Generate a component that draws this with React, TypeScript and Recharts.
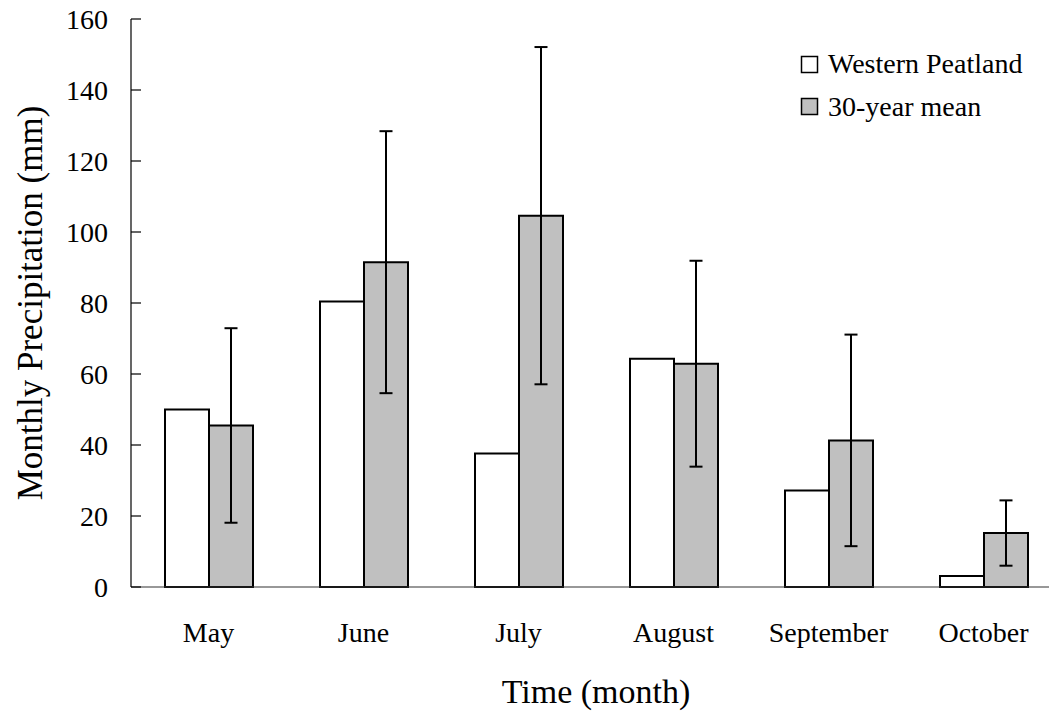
import React from 'react';
import { BarChart, Bar, XAxis, YAxis, ErrorBar, Legend } from 'recharts';

const months = ['May', 'June', 'July', 'August', 'September', 'October'];
const westernPeatland = [50, 80.4, 37.6, 64.3, 27.2, 3.1];
const thirtyYearMean = [45.5, 91.5, 104.6, 62.9, 41.3, 15.2];
const meanError = [27.4, 36.9, 47.5, 29, 29.8, 9.2];
const yTicks = [0, 20, 40, 60, 80, 100, 120, 140, 160];
const seriesNames = ['Western Peatland', '30-year mean'];

const data = months.map((m, i) => ({
  month: m,
  wp: westernPeatland[i],
  mean: thirtyYearMean[i],
  err: meanError[i],
}));

const FONT = '"Liberation Serif", "Times New Roman", serif';
const GRAY = '#c0c0c0';

const YTick = (props: any) => {
  const { x, y, payload } = props;
  return (
    <g>
      <line x1={x} x2={x + 10} y1={y} y2={y} stroke="#000" strokeWidth={1.2} />
      <text x={x - 23} y={y} dy={10} textAnchor="end" fontFamily={FONT} fontSize={28} fill="#000">
        {payload.value}
      </text>
    </g>
  );
};

const XTick = (props: any) => {
  const { x, y, payload } = props;
  return (
    <text x={x} y={y + 55} textAnchor="middle" fontFamily={FONT} fontSize={28} fill="#000">
      {payload.value}
    </text>
  );
};

const XTitle = (props: any) => {
  const vb = props.viewBox || {};
  return (
    <text x={vb.x + vb.width / 2} y={vb.y + 116} textAnchor="middle" fontFamily={FONT} fontSize={34} fill="#000">
      Time (month)
    </text>
  );
};

const YTitle = (props: any) => {
  const vb = props.viewBox || {};
  const cx = 42;
  const cy = vb.y + vb.height / 2;
  return (
    <text x={cx} y={cy} transform={`rotate(-90 ${cx} ${cy})`} textAnchor="middle" fontFamily={FONT} fontSize={35} fill="#000">
      Monthly Precipitation (mm)
    </text>
  );
};

const LegendContent = () => (
  <svg width={260} height={80} style={{ display: 'block' }}>
    <rect x={1.5} y={8.5} width={16} height={16} fill="#fff" stroke="#000" strokeWidth={1.5} />
    <text x={28} y={25} fontFamily={FONT} fontSize={28} fill="#000">{seriesNames[0]}</text>
    <rect x={1.5} y={50.5} width={16} height={16} fill={GRAY} stroke="#000" strokeWidth={1.5} />
    <text x={28} y={68} fontFamily={FONT} fontSize={28} fill="#000">{seriesNames[1]}</text>
  </svg>
);

export default function App() {
  return (
    <div style={{ margin: '-8px 0 0 -8px', width: 1057, height: 715, overflow: 'hidden', position: 'relative', background: '#fff' }}>
      <BarChart
        width={1061}
        height={715}
        data={data}
        margin={{ top: 19, right: 0, bottom: 0, left: 0 }}
        barGap={0}
      >
        <XAxis
          dataKey="month"
          height={128}
          tickLine={false}
          tickSize={0}
          tickMargin={0}
          tick={<XTick />}
          axisLine={{ stroke: '#333', strokeWidth: 1.2 }}
          label={<XTitle />}
          interval={0}
        />
        <YAxis
          width={131}
          domain={[0, 160]}
          ticks={yTicks}
          tickLine={false}
          tickSize={0}
          tickMargin={0}
          tick={<YTick />}
          axisLine={{ stroke: '#000', strokeWidth: 1.2 }}
          label={<YTitle />}
          interval={0}
        />
        <Legend
          layout="vertical"
          align="center"
          verticalAlign="middle"
          content={<LegendContent />}
          wrapperStyle={{ top: 48, left: 800, width: 260, height: 80 }}
        />
        <Bar dataKey="wp" name={seriesNames[0]} fill="#fff" stroke="#000" strokeWidth={2} barSize={44} isAnimationActive={false} />
        <Bar dataKey="mean" name={seriesNames[1]} fill={GRAY} stroke="#000" strokeWidth={2} barSize={44} isAnimationActive={false}>
          <ErrorBar dataKey="err" width={6.5} stroke="#000" strokeWidth={2} direction="y" isAnimationActive={false} />
        </Bar>
      </BarChart>
    </div>
  );
}
